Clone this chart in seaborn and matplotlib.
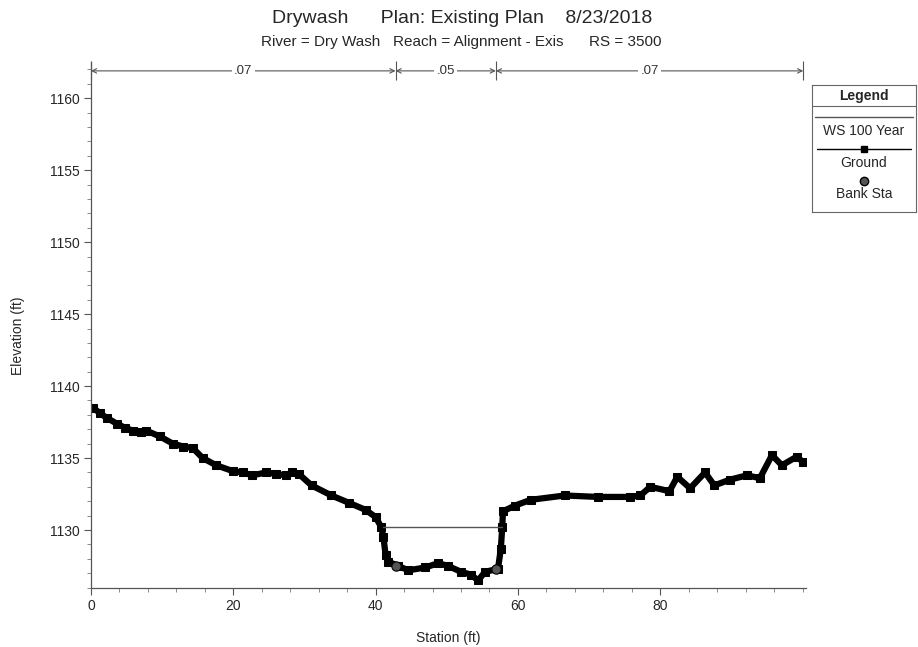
import matplotlib
matplotlib.use('Agg')
from matplotlib import pyplot as plt
from matplotlib.ticker import MultipleLocator
import seaborn as sns
import pandas as pd

# Ground profile (station ft, elevation ft)
station = [0.0, 0.3, 1.3, 2.2, 3.6, 4.8, 5.9, 7.0, 7.8, 9.7, 11.5, 13.0, 14.3, 15.7,
           17.6, 19.9, 21.3, 22.7, 24.6, 26.0, 27.4, 28.3, 29.2, 31.0, 33.8, 36.2,
           38.6, 40.0, 40.8, 41.1, 41.4, 41.8, 43.2, 44.6, 47.0, 48.8, 50.2, 52.0,
           53.4, 54.4, 55.4, 57.2, 57.6, 57.8, 57.9, 59.6, 61.8, 66.6, 71.2, 75.8,
           77.2, 78.6, 81.3, 82.4, 84.2, 86.3, 87.6, 89.8, 92.2, 94.0, 95.7, 97.1,
           99.2, 100.1]
elevation = [1138.5, 1138.5, 1138.1, 1137.8, 1137.4, 1137.1, 1136.9, 1136.8, 1136.9,
             1136.5, 1136.0, 1135.8, 1135.7, 1135.0, 1134.5, 1134.1, 1134.0, 1133.8,
             1134.0, 1133.9, 1133.8, 1134.0, 1133.9, 1133.1, 1132.4, 1131.9, 1131.4,
             1130.9, 1130.2, 1129.5, 1128.3, 1127.8, 1127.5, 1127.2, 1127.4, 1127.7,
             1127.5, 1127.1, 1126.9, 1126.5, 1127.1, 1127.3, 1128.7, 1130.2, 1131.3,
             1131.7, 1132.1, 1132.4, 1132.3, 1132.3, 1132.4, 1133.0, 1132.7, 1133.7,
             1132.9, 1134.0, 1133.1, 1133.5, 1133.8, 1133.6, 1135.2, 1134.5, 1135.1,
             1134.7]

ws_station = [41.1, 57.8]
ws_elev = [1130.2, 1130.2]

bank_station = [42.8, 56.9]
bank_elev = [1127.5, 1127.3]

n_breaks = [0.0, 42.8, 56.9, 100.1]
n_values = ['.07', '.05', '.07']
n_level = 1161.9

sns.set_style('ticks')
plt.rcParams['font.family'] = ['Liberation Sans', 'DejaVu Sans']

fig = plt.figure(figsize=(9.18, 6.47), dpi=100)
ax = fig.add_axes([0.0991, 0.0918, 0.779, 0.812])

ground = pd.DataFrame({'station': station, 'elevation': elevation})
sns.lineplot(data=ground, x='station', y='elevation', ax=ax, color='black', lw=4.5,
             marker='s', markersize=6, markeredgecolor='black', estimator=None, sort=False)
sns.lineplot(x=ws_station, y=ws_elev, ax=ax, color='#555555', lw=1)
sns.scatterplot(x=bank_station, y=bank_elev, ax=ax, color='#555555', s=45,
                edgecolor='black', linewidth=0.8, zorder=5)

# Manning's n strip along the top
for a, b, v in zip(n_breaks[:-1], n_breaks[1:], n_values):
    ax.annotate('', xy=(a, n_level), xytext=(b, n_level), annotation_clip=False,
                arrowprops=dict(arrowstyle='<->', color='#555555', lw=0.8,
                                shrinkA=0, shrinkB=0, mutation_scale=8))
    ax.text((a + b) / 2, n_level, v, ha='center', va='center', fontsize=9.5,
            color='#333333', bbox=dict(fc='white', ec='none', pad=1.5))
ax.vlines(n_breaks, 1161.3, 1162.6, color='#555555', lw=0.8, clip_on=False)

ax.set_xlim(0, 100.5)
ax.set_ylim(1126, 1162.5)
ax.set_xticks([0, 20, 40, 60, 80])
ax.set_yticks([1130, 1135, 1140, 1145, 1150, 1155, 1160])
ax.xaxis.set_minor_locator(MultipleLocator(4))
ax.yaxis.set_minor_locator(MultipleLocator(1))
ax.tick_params(which='major', length=5, width=0.8, color='#555555', labelsize=10, pad=3)
ax.tick_params(which='minor', length=3, width=0.6, color='#777777')
sns.despine(ax=ax)
for s in ['left', 'bottom']:
    ax.spines[s].set_color('#555555')
    ax.spines[s].set_linewidth(0.9)
ax.set_xlabel('Station (ft)', fontsize=10, labelpad=13)
ax.set_ylabel('Elevation (ft)', fontsize=10)
ax.yaxis.set_label_coords(-0.092, 0.48)

fig.text(0.503, 0.972, 'Drywash      Plan: Existing Plan    8/23/2018',
         ha='center', va='center', fontsize=14)
fig.text(0.502, 0.935, 'River = Dry Wash   Reach = Alignment - Exis      RS = 3500',
         ha='center', va='center', fontsize=11)

# legend box
lax = fig.add_axes([0.8845, 0.672, 0.113, 0.196])
lax.set_xlim(0, 1)
lax.set_ylim(0, 1)
lax.set_xticks([])
lax.set_yticks([])
for s in lax.spines.values():
    s.set_color('#666666')
    s.set_linewidth(0.8)
lax.text(0.5, 0.92, 'Legend', ha='center', va='center', fontsize=10, fontweight='bold')
lax.plot([0, 1], [0.835, 0.835], color='#666666', lw=0.8)
lax.plot([0.03, 0.97], [0.75, 0.75], color='#555555', lw=1)
lax.text(0.5, 0.64, 'WS 100 Year', ha='center', va='center', fontsize=10)
lax.plot([0.05, 0.5, 0.95], [0.5, 0.5, 0.5], color='black', lw=1, marker='s',
         markersize=4, markevery=[1])
lax.text(0.5, 0.39, 'Ground', ha='center', va='center', fontsize=10)
lax.plot([0.5], [0.25], 'o', color='#555555', markeredgecolor='black', markersize=6)
lax.text(0.5, 0.14, 'Bank Sta', ha='center', va='center', fontsize=10)

fig.savefig('out.png', dpi=100, facecolor='white')
